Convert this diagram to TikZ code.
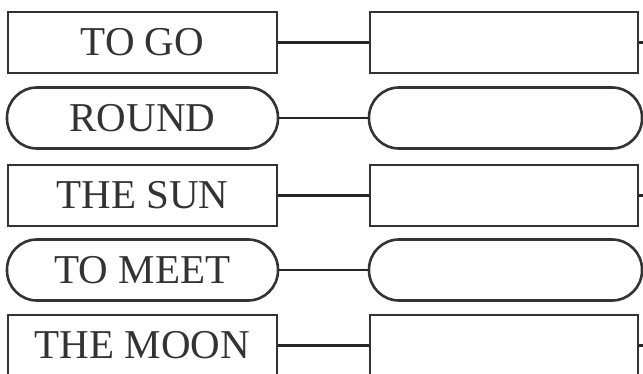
\documentclass[tikz,border=0pt]{standalone}
\usepackage{fontspec}
\setmainfont{Liberation Serif}
\begin{document}
\begin{tikzpicture}[x=1pt,y=-1pt,
  box/.style={draw=black!80, line width=2.6pt, minimum height=61pt, inner sep=0pt, font=\fontsize{41}{41}\selectfont, text=black!80},
  lbox/.style={box, minimum width=269pt},
  rbox/.style={box, minimum width=268pt},
  rnd/.style={rounded corners=30pt},
  link/.style={draw=black!85, line width=2.4pt}]
\useasboundingbox (0,0) rectangle (643,374);
\clip (0,0) rectangle (643,374);
% left column
\node[lbox] (a1) at (142.5,42.5) {TO GO};
\node[lbox, rnd, minimum width=271pt] (a2) at (142.5,118) {ROUND};
\node[lbox] (a3) at (142.5,195.5) {THE SUN};
\node[lbox, rnd, minimum width=271pt] (a4) at (142.5,270) {TO MEET};
\node[lbox] (a5) at (142.5,345.5) {THE MOON};
% right column
\node[rbox] (b1) at (504,42.5) {};
\node[rbox, rnd, minimum width=273pt] (b2) at (505.5,118) {};
\node[rbox] (b3) at (504,195.5) {};
\node[rbox, rnd, minimum width=273pt] (b4) at (505.5,270) {};
\node[rbox] (b5) at (504,345.5) {};
% connectors
\foreach \i in {1,...,5} {\draw[link] (a\i.east) -- (b\i.west);}
% stubs leaving to the right
\coordinate (e1) at (646,42.5);
\coordinate (e3) at (646,195.5);
\coordinate (e5) at (646,345.5);
\draw[link] (b1.east) -- (e1);
\draw[link] (b3.east) -- (e3);
\draw[link] (b5.east) -- (e5);
\end{tikzpicture}
\end{document}
